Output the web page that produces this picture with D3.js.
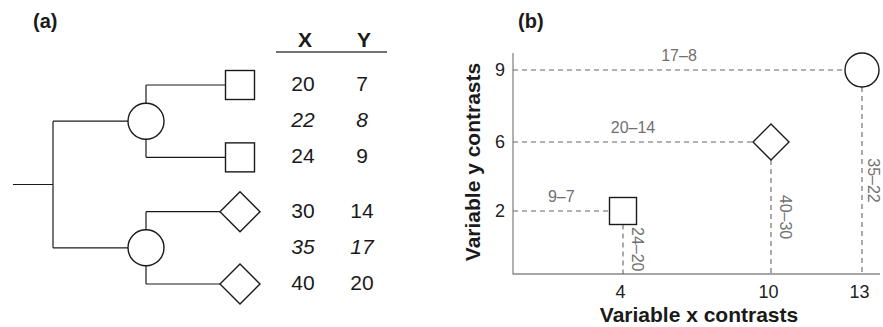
<!DOCTYPE html>
<html><head><meta charset="utf-8">
<script src="https://cdn.jsdelivr.net/npm/d3@7"></script>
<style>body{margin:0;background:#fff;} svg{display:block;font-family:"Liberation Sans",Arial,sans-serif;}</style>
</head><body><svg id="c" width="883" height="327"></svg>
<script>
// ---- data: panel (a) ----
const tableHeaders = ["X", "Y"];
const tipX = [20, 22, 24, 30, 35, 40];
const tipY = [7, 8, 9, 14, 17, 20];
const rowItalic = [false, true, false, false, true, false];
const rowSlot = [0, 1, 2, 3.5, 4.5, 5.5];
const tipSlots = [0, 2, 3.5, 5.5];
const tipShapes = ["square", "square", "diamond", "diamond"];
const nodeSlots = [1, 4.5];
const nodeChildren = [[0, 1], [2, 3]];
// ---- data: panel (b) ----
const contrastX = [4, 10, 13];
const contrastY = [2, 6, 9];
const contrastShape = ["square", "diamond", "circle"];
const contrastXLabel = ["24–20", "40–30", "35–22"];
const contrastYLabel = ["9–7", "20–14", "17–8"];
const xTitle = "Variable x contrasts";
const yTitle = "Variable y contrasts";

const svg = d3.select("#c");
const ink = "#1a1a1a";

function shape(g, type, cx, cy, opts) {
  if (type === "square") {
    const s = opts.sq;
    g.append("rect").attr("x", cx - s / 2).attr("y", cy - s / 2).attr("width", s).attr("height", s);
  } else if (type === "diamond") {
    const h = opts.dm;
    g.append("path").attr("d", `M${cx - h},${cy}L${cx},${cy - h}L${cx + h},${cy}L${cx},${cy + h}Z`);
  } else {
    g.append("circle").attr("cx", cx).attr("cy", cy).attr("r", opts.r);
  }
}
function halfW(type, opts) { return type === "square" ? opts.sq / 2 : type === "diamond" ? opts.dm : opts.r; }

// ================= Panel (a) =================
const A = svg.append("g");
A.append("text").attr("x", 33).attr("y", 28).attr("font-weight", "bold").attr("font-size", 20).attr("fill", ink).text("(a)");

const rowY = d3.scaleLinear().domain([0, 5.5]).range([85, 284]);
const depthX = d3.scaleLinear().domain([0, 1, 2, 3]).range([13, 53, 146, 240]);
const optsA = { sq: 29, dm: 20, r: 18 };
const lineA = A.append("g").attr("stroke", ink).attr("stroke-width", 1.2).attr("fill", "none");

const rootY = (rowY(nodeSlots[0]) + rowY(nodeSlots[1])) / 2;
lineA.append("line").attr("x1", depthX(0)).attr("x2", depthX(1)).attr("y1", rootY).attr("y2", rootY);
lineA.append("line").attr("x1", depthX(1)).attr("x2", depthX(1)).attr("y1", rowY(nodeSlots[0])).attr("y2", rowY(nodeSlots[1]));
nodeSlots.forEach((s, i) => {
  const ny = rowY(s);
  lineA.append("line").attr("x1", depthX(1)).attr("x2", depthX(2) - optsA.r).attr("y1", ny).attr("y2", ny);
  nodeChildren[i].forEach(c => {
    const ty = rowY(tipSlots[c]);
    const sy = ty < ny ? ny - optsA.r : ny + optsA.r;
    lineA.append("line").attr("x1", depthX(2)).attr("x2", depthX(2)).attr("y1", sy).attr("y2", ty);
    lineA.append("line").attr("x1", depthX(2)).attr("x2", depthX(3) - halfW(tipShapes[c], optsA)).attr("y1", ty).attr("y2", ty);
  });
});
const shapesA = A.append("g").attr("stroke", ink).attr("stroke-width", 1.4).attr("fill", "#fff");
nodeSlots.forEach(s => shape(shapesA, "circle", depthX(2), rowY(s), optsA));
tipSlots.forEach((s, i) => shape(shapesA, tipShapes[i], depthX(3), rowY(s), optsA));

// table
const colX = d3.scalePoint().domain(tableHeaders).range([303, 362]);
A.selectAll("text.hdr").data(tableHeaders).join("text").attr("class", "hdr")
  .attr("x", d => colX(d) + 2).attr("y", 47).attr("text-anchor", "middle")
  .attr("font-weight", "bold").attr("font-size", 21).attr("fill", ink).text(d => d);
A.append("line").attr("x1", 276).attr("x2", 387).attr("y1", 52).attr("y2", 52).attr("stroke", "#444").attr("stroke-width", 1.3);
const rows = tipX.map((x, i) => ({ x, y: tipY[i], it: rowItalic[i], slot: rowSlot[i] }));
["X", "Y"].forEach(col => {
  A.selectAll("text.v" + col).data(rows).join("text").attr("class", "v" + col)
    .attr("x", colX(col)).attr("y", d => rowY(d.slot) + 6).attr("text-anchor", "middle")
    .attr("font-size", 21).attr("fill", ink).attr("font-style", d => d.it ? "italic" : "normal")
    .text(d => col === "X" ? d.x : d.y);
});

// ================= Panel (b) =================
const B = svg.append("g");
B.append("text").attr("x", 518).attr("y", 28).attr("font-weight", "bold").attr("font-size", 20).attr("fill", ink).text("(b)");
const plotL = 513, plotR = 880, plotT = 53, plotB = 274;
const x = d3.scaleLinear().domain([4, 10, 13]).range([623, 771, 862]);
const y = d3.scaleLinear().domain([2, 6, 9]).range([211, 142, 70]);
const optsB = { sq: 27, dm: 18, r: 17 };

// axes
const xa = B.append("g").attr("transform", `translate(0,${plotB})`)
  .call(d3.axisBottom(x).tickValues(contrastX).tickFormat(d3.format("d")).tickSize(0).tickPadding(11))
  .attr("font-size", null).attr("font-family", null);
xa.select(".domain").remove();
xa.selectAll("text").style("font-size", "18px").attr("fill", "#222").attr("dx", -3);
const ya = B.append("g").attr("transform", `translate(${plotL},0)`)
  .call(d3.axisLeft(y).tickValues(contrastY).tickFormat(d3.format("d")).tickSize(0).tickPadding(8))
  .attr("font-size", null).attr("font-family", null);
ya.select(".domain").remove();
ya.selectAll("text").style("font-size", "18px").attr("fill", "#222");
B.append("path").attr("d", `M${plotL},${plotT}V${plotB}H${plotR}`).attr("fill", "none").attr("stroke", "#888").attr("stroke-width", 1.3);

// dashed guides + labels
const pts = contrastX.map((cx, i) => ({ cx, cy: contrastY[i], shape: contrastShape[i], xl: contrastXLabel[i], yl: contrastYLabel[i] }));
const dash = B.append("g").attr("stroke", "#666").attr("stroke-width", 1.1).attr("stroke-dasharray", "5,4");
const lbl = B.append("g").attr("fill", "#707070").attr("font-size", 16);
pts.forEach((p, i) => {
  const px = x(p.cx), py = y(p.cy), hw = halfW(p.shape, optsB);
  dash.append("line").attr("x1", plotL).attr("x2", px - hw).attr("y1", py).attr("y2", py);
  dash.append("line").attr("x1", px).attr("x2", px).attr("y1", py + hw).attr("y2", plotB);
  lbl.append("text").attr("x", (plotL + px - hw) / 2).attr("y", py - 9).attr("text-anchor", "middle").text(p.yl);
  const my = (py + hw + plotB) / 2;
  const off = i === pts.length - 1 ? 6 : 9;
  lbl.append("text").attr("transform", `translate(${px + off},${my}) rotate(90)`).attr("text-anchor", "middle").text(p.xl);
});
const shapesB = B.append("g").attr("stroke", ink).attr("stroke-width", 1.4).attr("fill", "#fff");
pts.forEach(p => shape(shapesB, p.shape, x(p.cx), y(p.cy), optsB));

// titles
B.append("text").attr("x", 699).attr("y", 322).attr("text-anchor", "middle").attr("font-weight", "bold").attr("font-size", 21).attr("fill", ink).text(xTitle);
B.append("text").attr("transform", "translate(480,162) rotate(-90)").attr("text-anchor", "middle").attr("font-weight", "bold").attr("font-size", 21).attr("fill", ink).text(yTitle);
</script>
</body></html>
